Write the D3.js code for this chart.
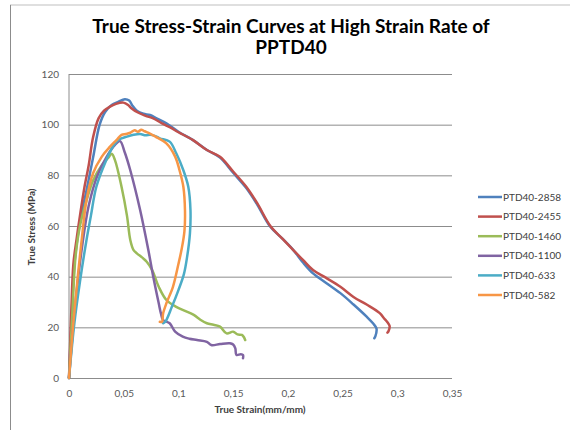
<!DOCTYPE html>
<html>
<head>
<meta charset="utf-8">
<script src="https://cdn.jsdelivr.net/npm/d3@7"></script>
<style>
  body { margin: 0; background: #fff; }
  text { font-family: Lato, "Open Sans", sans-serif; }
</style>
</head>
<body>
<svg id="chart" width="570" height="430"></svg>
<script>
// series names (legend order)
var names = ["PTD40-2858", "PTD40-2455", "PTD40-1460", "PTD40-1100", "PTD40-633", "PTD40-582"];
var colors = ["#4F81BD", "#C0504D", "#9BBB59", "#8064A2", "#4BACC6", "#F79646"];

// [strain, stress]
var s2858 = [[0,0],[0.002,20],[0.005,45],[0.008,56],[0.012,66],[0.016,74],[0.022,87],[0.028,100],[0.033,105],[0.039,107.8],
  [0.045,109],[0.051,110],[0.055,109.5],[0.058,107.5],[0.062,105.5],[0.068,104.3],[0.074,103.8],[0.080,102.5],[0.089,100.5],
  [0.100,97.2],[0.113,94],[0.126,90],[0.138,87],[0.150,81],[0.162,75],[0.172,68.5],[0.184,59.7],[0.195,55],[0.205,50.5],
  [0.214,45.5],[0.223,41.3],[0.235,37.5],[0.248,33.5],[0.260,29],[0.272,24.2],[0.278,21.5],[0.281,19.5],[0.280,16.5],[0.279,15.7]];
var s2455 = [[0,0],[0.002,25],[0.004,45],[0.007,55],[0.010,64],[0.014,75],[0.018,84],[0.022,95],[0.027,102.5],[0.032,105.5],
  [0.037,107],[0.043,108.2],[0.0497,108.7],[0.054,107.8],[0.057,106.5],[0.063,104.8],[0.070,103.5],[0.077,102.5],[0.085,100.5],
  [0.092,99],[0.100,97],[0.113,94],[0.126,90],[0.138,87.3],[0.150,81.5],[0.162,75.5],[0.172,69],[0.184,60],[0.195,55],
  [0.205,50.5],[0.214,46.5],[0.223,42.6],[0.235,39.5],[0.248,36],[0.260,32],[0.272,29],[0.284,25.6],[0.288,23.5],[0.291,22],
  [0.293,20.5],[0.292,18.5],[0.291,17.9]];
var s1460 = [[0,0],[0.003,25],[0.006,48],[0.010,60],[0.016,70],[0.022,78],[0.030,84],[0.036,87],[0.039,88.5],[0.042,86],
  [0.048,75.5],[0.053,64],[0.056,54.5],[0.059,50.5],[0.062,49.2],[0.067,47.5],[0.071,45.9],[0.076,42.6],[0.082,36],[0.089,30.8],
  [0.098,28.1],[0.106,26.5],[0.114,24.9],[0.120,23],[0.126,21.6],[0.132,21],[0.138,20.3],[0.144,17.6],[0.150,18.3],[0.154,17.2],
  [0.158,17],[0.160,16],[0.161,15]];
var s1100 = [[0,0],[0.006,30],[0.012,52],[0.018,68],[0.026,80],[0.034,87],[0.042,92],[0.0466,93.5],[0.051,89],[0.056,82],
  [0.065,66.3],[0.0725,50.5],[0.077,40],[0.082,29.5],[0.084,25.5],[0.086,22.9],[0.092,21.6],[0.097,18.3],[0.104,16.3],[0.110,15.5],
  [0.117,15],[0.126,14.3],[0.130,13],[0.138,13.4],[0.147,13.7],[0.150,13.2],[0.152,11.7],[0.153,9.1],[0.157,9.4],[0.159,9.1],[0.159,7.8]];
var s633 = [[0,0],[0.005,22],[0.010,38],[0.016,54.5],[0.020,64],[0.025,75.5],[0.034,86],[0.040,91.3],[0.045,94],[0.053,95.3],
  [0.059,96],[0.065,96.3],[0.070,95.8],[0.074,96],[0.079,95.5],[0.083,94.6],[0.092,93.3],[0.098,88.7],[0.1045,82],[0.109,75.5],
  [0.111,66.3],[0.1105,57],[0.108,48],[0.105,41],[0.100,34.7],[0.094,28.1],[0.088,22.2],[0.086,21.6]];
var s582 = [[0,0],[0.004,22],[0.008,40],[0.0116,54.5],[0.016,70.3],[0.022,80.8],[0.030,87.4],[0.0375,91.3],[0.0436,94],[0.048,96],
  [0.052,96.3],[0.056,96.8],[0.060,97.8],[0.063,97.2],[0.066,98],[0.069,97.4],[0.074,96.5],[0.079,95.3],[0.089,92.6],[0.097,87.4],
  [0.101,82],[0.1045,75.5],[0.106,66],[0.1055,58],[0.103,51],[0.100,45],[0.095,36],[0.089,29.5],[0.086,25.5],[0.085,22.2],[0.083,22.2]];
var series = [s2858, s2455, s1460, s1100, s633, s582];

var xTicks = [0, 0.05, 0.1, 0.15, 0.2, 0.25, 0.3, 0.35];
var yTicks = [0, 20, 40, 60, 80, 100, 120];

var svg = d3.select("#chart");

// frame edges left over from the sheet
svg.append("line").attr("x1", 10).attr("x2", 570).attr("y1", 5).attr("y2", 5)
  .attr("stroke", "#bfbfbf").attr("stroke-width", 1);
svg.append("line").attr("x1", 10.5).attr("x2", 10.5).attr("y1", 5).attr("y2", 430)
  .attr("stroke", "#8c8c8c").attr("stroke-width", 1);

var x = d3.scaleLinear().domain([0, 0.35]).range([69, 452]);
var y = d3.scaleLinear().domain([0, 120]).range([378, 74]);

// gridlines
svg.append("g")
  .attr("transform", "translate(69,0)")
  .call(d3.axisLeft(y).tickValues(yTicks).tickSize(-(452 - 69)).tickFormat(""))
  .call(function(g) {
    g.select(".domain").remove();
    g.selectAll(".tick line").attr("stroke", "#8c8c8c").attr("stroke-width", 1);
  });

// y axis line and labels
svg.append("line").attr("x1", 69).attr("x2", 69).attr("y1", 74).attr("y2", 378)
  .attr("stroke", "#8c8c8c");

svg.append("g")
  .attr("transform", "translate(69,0)")
  .call(d3.axisLeft(y).tickValues(yTicks).tickSize(0).tickPadding(10))
  .call(function(g) {
    g.select(".domain").remove();
    g.selectAll("text").attr("fill", "#595959").style("font-size", "10px");
  });

svg.append("g")
  .attr("transform", "translate(0,378)")
  .call(d3.axisBottom(x).tickValues(xTicks).tickSize(0).tickPadding(12)
    .tickFormat(function(d) { return String(d).replace(".", ","); }))
  .call(function(g) {
    g.select(".domain").remove();
    g.selectAll("text").attr("fill", "#595959").style("font-size", "10px");
  });

// curves
var line = d3.line()
  .x(function(d) { return x(d[0]); })
  .y(function(d) { return y(d[1]); })
  .curve(d3.curveCatmullRom.alpha(0.5));

svg.append("g").selectAll("path")
  .data(series)
  .enter().append("path")
  .attr("d", line)
  .attr("fill", "none")
  .attr("stroke", function(d, i) { return colors[i]; })
  .attr("stroke-width", 2.5)
  .attr("stroke-linejoin", "round")
  .attr("stroke-linecap", "round");

// title
svg.append("text")
  .attr("x", 291).attr("y", 33)
  .attr("text-anchor", "middle")
  .style("font-size", "19px").style("font-weight", "bold").attr("fill", "#000")
  .text("True Stress-Strain Curves at High Strain Rate of");
svg.append("text")
  .attr("x", 291).attr("y", 54)
  .attr("text-anchor", "middle")
  .style("font-size", "19px").style("font-weight", "bold").attr("fill", "#000")
  .text("PPTD40");

// axis titles
svg.append("text")
  .attr("x", 260).attr("y", 413)
  .attr("text-anchor", "middle")
  .style("font-size", "10px").style("font-weight", "bold").attr("fill", "#404040")
  .text("True Strain(mm/mm)");
svg.append("text")
  .attr("transform", "translate(35,227) rotate(-90)")
  .attr("text-anchor", "middle")
  .style("font-size", "10px").style("font-weight", "bold").attr("fill", "#404040")
  .text("True Stress (MPa)");

// legend
var legend = svg.append("g").selectAll("g")
  .data(names)
  .enter().append("g")
  .attr("transform", function(d, i) { return "translate(478," + (197 + i * 19.6) + ")"; });

legend.append("line")
  .attr("x1", 0).attr("x2", 24).attr("y1", 0).attr("y2", 0)
  .attr("stroke", function(d, i) { return colors[i]; })
  .attr("stroke-width", 2.5);

legend.append("text")
  .attr("x", 25).attr("y", 0).attr("dy", "0.35em")
  .style("font-size", "10px").attr("fill", "#404040")
  .text(function(d) { return d; });
</script>
</body>
</html>
